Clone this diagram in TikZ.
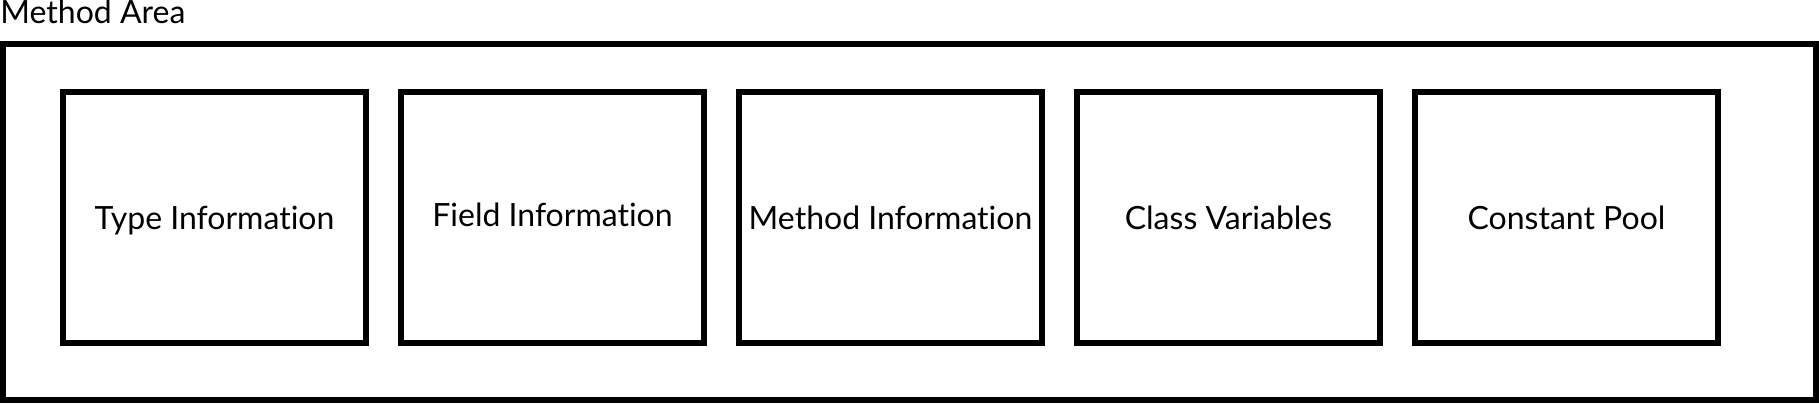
\documentclass[tikz,border=0pt]{standalone}
\usepackage{fontspec}
\setmainfont[Ligatures=NoCommon]{Lato}
\begin{document}
\begin{tikzpicture}[x=0.5pt,y=-0.5pt,
    box/.style={draw, line width=3pt, minimum width=151.5pt, minimum height=125.5pt,
        inner sep=0pt, text height=14pt, text depth=2pt},
    every node/.style={font=\fontsize{16}{19}\selectfont}]
    \useasboundingbox (0,0) rectangle (1819,403);

    % Outer area and its title
    \node[box, minimum width=906.5pt, minimum height=178pt] (area) at (909.5,222) {};
    \node[anchor=base west, inner sep=0pt] (title) at (0,23) {Method Area};

    % Parts of the area
    \node[box] (type) at (214.5,217.5) {Type Information};
    \node[box] (field) at (552.5,217.5) {};
    \node (fieldtext) at (552.5,214.5) [text height=14pt, text depth=2pt, inner sep=0pt] {Field Information};
    \node[box] (method) at (890.5,217.5) {Method Information};
    \node[box] (classvar) at (1228.5,217.5) {Class Variables};
    \node[box] (pool) at (1566.5,217.5) {Constant Pool};

\end{tikzpicture}
\end{document}
